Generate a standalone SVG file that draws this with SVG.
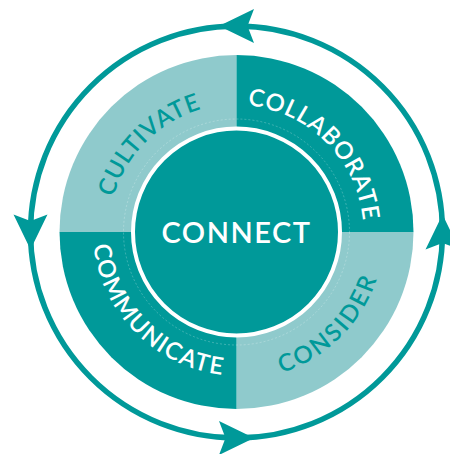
<svg xmlns="http://www.w3.org/2000/svg" xmlns:xlink="http://www.w3.org/1999/xlink" width="450" height="454" viewBox="0 0 450 454">
  <style>
    .dark { fill: #009999; }
    .light { fill: #8fcacc; }
    .lbl { font-family: Lato, "Noto Sans", "Liberation Sans", sans-serif; font-size: 24px; font-weight: 600; }
    .onlight { fill: #009999; }
    .ondark { fill: #ffffff; }
    .ring { fill: none; stroke: #009999; stroke-width: 5.5; }
    .head { fill: #009999; }
  </style>
  <defs>
    <path id="p-cultivate" d="M-92.6,92.6 A131,131 0 0 1 92.6,-92.6"/>
    <path id="p-collaborate" d="M-91.2,-91.2 A129,129 0 0 1 91.2,91.2"/>
    <path id="p-communicate" d="M-103.9,-103.9 A147,147 0 0 0 103.9,103.9"/>
    <path id="p-consider" d="M-104.7,104.7 A148,148 0 0 0 104.7,-104.7"/>
    <path id="arrowhead" d="M17.5,0 L-17.5,-17 L-11,0 L-17.5,17 Z"/>
  </defs>

  <g id="connectors">
    <circle class="ring" cx="236.5" cy="232" r="206"/>
    <use href="#arrowhead" class="head" transform="translate(236.5,26) rotate(180)"/>
    <use href="#arrowhead" class="head" transform="translate(30.5,232) rotate(90)"/>
    <use href="#arrowhead" class="head" transform="translate(236.5,438)"/>
    <use href="#arrowhead" class="head" transform="translate(442.5,232) rotate(-90)"/>
  </g>

  <g transform="translate(236.5,232)">
    <g id="cultivate">
      <path class="light" d="M0,0 L-177,0 A177,177 0 0 1 0,-177 Z"/>
      <text class="lbl onlight" letter-spacing="0.8"><textPath href="#p-cultivate" startOffset="50%" text-anchor="middle">CULTIVATE</textPath></text>
    </g>
    <g id="collaborate">
      <path class="dark" d="M0,0 L0,-177 A177,177 0 0 1 177,0 Z"/>
      <text class="lbl ondark" letter-spacing="0.7"><textPath href="#p-collaborate" startOffset="50%" text-anchor="middle">COLLABORATE</textPath></text>
    </g>
    <g id="consider">
      <path class="light" d="M0,0 L177,0 A177,177 0 0 1 0,177 Z"/>
      <text class="lbl onlight" letter-spacing="2.5"><textPath href="#p-consider" startOffset="50%" text-anchor="middle">CONSIDER</textPath></text>
    </g>
    <g id="communicate">
      <path class="dark" d="M0,0 L0,177 A177,177 0 0 1 -177,0 Z"/>
      <text class="lbl ondark" letter-spacing="1.5"><textPath href="#p-communicate" startOffset="50%" text-anchor="middle">COMMUNICATE</textPath></text>
    </g>
    <g id="connect">
      <circle r="113" fill="none" stroke="#ffffff" stroke-opacity="0.3" stroke-width="0.8" stroke-dasharray="2 2"/>
      <circle r="103.5" fill="#009999" stroke="#ffffff" stroke-width="4"/>
      <text x="0" y="11" text-anchor="middle" font-family="Lato, 'Noto Sans', 'Liberation Sans', sans-serif" font-size="29" font-weight="600" letter-spacing="1.5" fill="#ffffff">CONNECT</text>
    </g>
  </g>
</svg>
